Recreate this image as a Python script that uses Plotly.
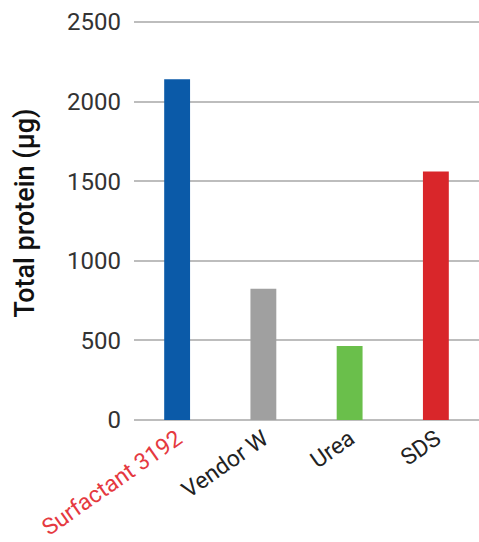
import plotly.graph_objects as go

categories = ["Surfactant 3192", "Vendor W", "Urea", "SDS"]
values = [2140, 825, 465, 1560]
colors = ["#0b5aa8", "#a0a0a0", "#6abf4b", "#d9262a"]
tick_labels = ["<span style='color:#e5393f'>Surfactant 3192</span>", "Vendor W", "Urea", "SDS"]
y_ticks = [0, 500, 1000, 1500, 2000, 2500]

fig = go.Figure(go.Bar(x=categories, y=values, marker=dict(color=colors, line=dict(width=0)), width=0.3))
for v in y_ticks:
    if v > max(values):
        fig.add_hline(y=v, line=dict(color="#bdbdbd", width=2), layer="above")
fig.update_layout(
    width=479, height=542,
    margin=dict(l=134, r=0, t=6, b=122),
    plot_bgcolor="white", paper_bgcolor="white",
    font=dict(family="Roboto", size=24, color="#333333"),
    showlegend=False,
)
fig.update_xaxes(tickmode="array", tickvals=categories, ticktext=tick_labels, tickangle=-35,
                 showgrid=False, showline=False, ticks="", automargin=False,
                 tickfont=dict(size=23, color="#222222"))
fig.update_yaxes(range=[0, 2600], tickvals=y_ticks,
                 showgrid=True, gridcolor="#bdbdbd", gridwidth=2,
                 zeroline=True, zerolinecolor="#bdbdbd", zerolinewidth=2,
                 ticks="", ticklabelstandoff=12, automargin=False,
                 title=dict(text="Total protein (µg)", font=dict(size=27, color="#111111", weight=500), standoff=24),
                 tickfont=dict(size=24, color="#333333"))
fig.write_html("out.html", config={"displayModeBar": False})
